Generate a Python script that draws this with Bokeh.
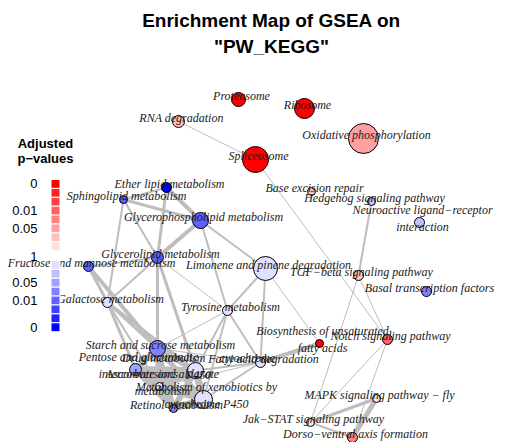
import textwrap
from bokeh.plotting import figure
from bokeh.models import Range1d
from bokeh.core.properties import value
from bokeh.embed import file_html
from bokeh.resources import INLINE

# ---------------- data ----------------
node_names = [
    "Proteasome", "Ribosome", "Oxidative phosphorylation", "RNA degradation",
    "Spliceosome", "Base excision repair", "Hedgehog signaling pathway",
    "Neuroactive ligand−receptor interaction", "Ether lipid metabolism",
    "Sphingolipid metabolism", "Glycerophospholipid metabolism",
    "Glycerolipid metabolism", "Fructose and mannose metabolism",
    "Limonene and pinene degradation", "TGF−beta signaling pathway",
    "Basal transcription factors", "Galactose metabolism", "Tyrosine metabolism",
    "Biosynthesis of unsaturated fatty acids", "Notch signaling pathway",
    "Starch and sucrose metabolism", "Pentose and glucuronate interconversions",
    "Drug metabolism − cytochrome P450", "Fatty acid degradation",
    "Ascorbate and aldarate metabolism",
    "Metabolism of xenobiotics by cytochrome P450", "Retinol metabolism",
    "MAPK signaling pathway − fly", "Jak−STAT signaling pathway",
    "Dorso−ventral axis formation",
]
# layout coordinates of the network (page pixels)
node_x = [238, 304, 363, 178, 255, 311, 371, 419, 166, 123, 200, 157, 88, 265, 358,
          426, 107, 227, 319, 387, 157, 135, 195, 260, 159, 203, 173, 376, 310, 352]
node_y = [99, 108, 138, 121, 159, 191, 201, 222, 187, 199, 220, 257, 266, 268, 275,
          291, 302, 310, 343, 339, 348, 369, 370, 362, 386, 399, 408, 398, 422, 437]
# gene-set size -> node radius (px)
node_radius = [7, 10, 15, 6, 13, 4, 4, 5, 5, 4, 8, 6, 5, 12, 5,
               5, 5, 5, 4, 5, 8, 6, 8, 5, 4, 9, 4, 4, 4, 5]
# +1 = up (red), -1 = down (blue)
node_sign = [1, 1, 1, 1, 1, 1, -1, -1, -1, -1, -1, -1, -1, -1, 1,
             -1, -1, -1, 1, 1, -1, -1, -1, -1, -1, -1, -1, 1, 1, 1]
# significance class 0 (p≈0) .. 7 (p≈1)
node_level = [0, 0, 5, 6, 0, 6, 6, 6, 0, 3, 3, 3, 3, 7, 6,
              4, 7, 7, 0, 3, 4, 5, 7, 7, 7, 7, 4, 7, 7, 4]

edges = [
    (3, 4, 1), (4, 19, 1),
    (6, 14, 2), (14, 28, 1), (14, 19, 1), (19, 28, 1), (19, 29, 1),
    (27, 28, 3), (27, 29, 5), (28, 29, 2), (18, 13, 1), (18, 23, 4),
    (8, 9, 2), (8, 10, 4), (8, 11, 3), (9, 10, 3), (9, 11, 2), (9, 16, 2),
    (10, 11, 4), (10, 13, 2), (10, 17, 2), (11, 12, 2), (11, 16, 2),
    (11, 20, 3), (11, 22, 3), (11, 17, 1), (12, 16, 3), (12, 20, 4),
    (16, 20, 3), (16, 21, 3), (16, 22, 3), (16, 26, 2),
    (17, 13, 2), (17, 23, 2), (17, 22, 2), (17, 25, 2), (17, 20, 1),
    (13, 23, 2), (23, 22, 2), (23, 25, 2), (23, 20, 1), (23, 24, 1),
    (20, 21, 6), (20, 22, 6), (20, 24, 6), (20, 25, 5), (20, 26, 5),
    (21, 22, 7), (21, 24, 7), (21, 25, 6), (21, 26, 6),
    (22, 24, 7), (22, 25, 7), (22, 26, 6),
    (24, 25, 7), (24, 26, 7), (25, 26, 7),
]

title_lines = ["Enrichment Map of GSEA on", "\"PW_KEGG\""]
legend_title = ["Adjusted", "p−values"]
legend_labels = ["0", "0.01", "0.05", "1", "0.05", "0.01", "0"]
legend_label_slot = [0, 3, 5, 8, 10, 12, 15]

red_palette = ["#FF0000", "#FF2020", "#FF4040", "#FF6060", "#FF8080", "#FFA0A0", "#FFC0C0", "#FFE0E0"]
blue_palette = ["#0000FF", "#2020FF", "#4040FF", "#6060FF", "#8080FF", "#A0A0FF", "#C0C0FF", "#E0E0FF"]

# ---------------- figure ----------------
W, H = 500, 442
p = figure(width=W, height=H, x_range=Range1d(0, W), y_range=Range1d(H, 0),
           toolbar_location=None, output_backend="svg", min_border=0,
           x_axis_location=None, y_axis_location=None)
p.grid.visible = False
p.outline_line_color = None
p.background_fill_color = "white"

# edges
ex0 = [node_x[a] for a, b, w in edges]
ey0 = [node_y[a] for a, b, w in edges]
ex1 = [node_x[b] for a, b, w in edges]
ey1 = [node_y[b] for a, b, w in edges]
ew = [w * 1.0 for a, b, w in edges]
p.segment(x0=ex0, y0=ey0, x1=ex1, y1=ey1, line_width=ew, line_color="#BEBEBE")

# nodes
colors = [red_palette[l] if s > 0 else blue_palette[l] for s, l in zip(node_sign, node_level)]
p.scatter(x=node_x, y=node_y, size=[2 * r for r in node_radius], fill_color=colors,
          line_color="black", line_width=1)

# labels
labels = ["\n".join(textwrap.wrap(n, 32)) for n in node_names]
p.text(x=[x + 3 for x in node_x], y=[y - 4 for y in node_y], text=labels,
       text_font=value("Liberation Serif"), text_font_style="italic",
       text_font_size="12px", text_align="center", text_baseline="middle",
       text_color="#1a1a1a", text_line_height=1.25)

# title
p.text(x=[271, 271], y=[20, 46], text=title_lines, text_font=value("Liberation Sans"),
       text_font_style="bold", text_font_size="19px", text_align="center",
       text_baseline="middle", text_color="black")

# legend
p.text(x=[45, 45], y=[143, 158], text=legend_title, text_font=value("Liberation Sans"),
       text_font_style="bold", text_font_size="13px", text_align="center",
       text_baseline="middle", text_color="black")
box_h = 8.9
red_top, blue_top = 179, 260
bx, by, bc = [], [], []
for i in range(8):
    bx.append(55); by.append(red_top + (i + 0.5) * box_h); bc.append(red_palette[i])
for i in range(8):
    bx.append(55); by.append(blue_top + (i + 0.5) * box_h); bc.append(blue_palette[7 - i])
p.rect(x=bx, y=by, width=9, height=box_h, fill_color=bc, line_color="white", line_width=1)

ly = []
for s in legend_label_slot:
    if s < 8:
        ly.append(red_top + (s + 0.5) * box_h)
    elif s == 8:
        ly.append((red_top + 8 * box_h + blue_top) / 2 + 1)
    else:
        ly.append(blue_top + (s - 8 + 0.5) * box_h)
p.text(x=[37] * len(legend_labels), y=ly, text=legend_labels,
       text_font=value("Liberation Sans"), text_font_size="13px",
       text_align="right", text_baseline="middle", text_color="black")

open("out.html", "w").write(file_html(p, INLINE))
